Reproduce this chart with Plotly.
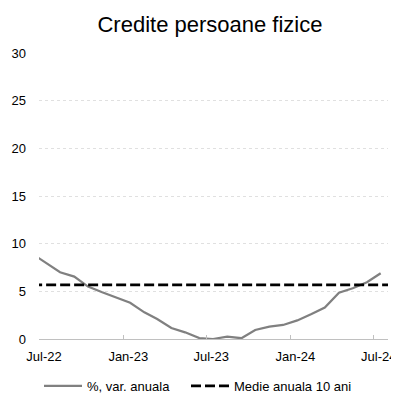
import pandas as pd
import plotly.graph_objects as go

# Monthly data (Jun-22 point lies just left of the visible axis range)
months = ["2022-06", "2022-07", "2022-08", "2022-09", "2022-10", "2022-11", "2022-12",
          "2023-01", "2023-02", "2023-03", "2023-04", "2023-05", "2023-06",
          "2023-07", "2023-08", "2023-09", "2023-10", "2023-11", "2023-12",
          "2024-01", "2024-02", "2024-03", "2024-04", "2024-05", "2024-06", "2024-07"]
var_anuala = [8.95, 8.0, 7.0, 6.55, 5.5, 4.9, 4.35,
              3.8, 2.8, 2.1, 1.15, 0.7, 0.1,
              0.0, 0.25, 0.08, 0.95, 1.3, 1.47,
              1.95, 2.62, 3.3, 4.85, 5.32, 5.95, 6.9]
mean_months = months + ["2024-08"]
medie_10ani = [5.67] * len(mean_months)

y_ticks = [0, 5, 10, 15, 20, 25, 30]

x_series = pd.to_datetime(months) + pd.Timedelta(days=15)
x_mean = pd.to_datetime(mean_months) + pd.Timedelta(days=15)

FONT = "Liberation Sans, Arial, sans-serif"
W = H = 391  # page body adds an 8px offset

fig = go.Figure()
fig.add_trace(go.Scatter(
    x=x_series, y=var_anuala, mode="lines", name="%, var. anuala",
    line=dict(color="#808080", width=2.25), legend="legend",
))
fig.add_trace(go.Scatter(
    x=x_mean, y=medie_10ani, mode="lines", name="Medie anuala 10 ani",
    line=dict(color="#000000", width=2.75, dash="10px,4px"), legend="legend2",
))

leg_common = dict(orientation="h", xref="container", xanchor="left",
                  y=1 - 378 / H, yref="container", yanchor="middle",
                  font=dict(family=FONT, size=13, color="#000000"),
                  itemwidth=38, bgcolor="rgba(0,0,0,0)")

fig.update_layout(
    width=W, height=H,
    margin=dict(l=31, r=11, t=45, b=60, autoexpand=False),
    paper_bgcolor="white", plot_bgcolor="white",
    font=dict(family=FONT, size=13, color="#000000"),
    title=dict(text="Credite persoane fizice", x=202 / W, xref="container", xanchor="center",
               y=1 - 16 / H, yref="container", yanchor="middle",
               font=dict(family=FONT, size=22, color="#000000")),
    showlegend=True,
    legend=dict(x=31 / W, **leg_common),
    legend2=dict(x=178 / W, **leg_common),
)

fig.update_xaxes(
    type="date",
    range=["2022-07-01", "2024-08-01"],
    tick0="2022-07-01", dtick="M6", tickformat="%b-%y",
    showgrid=False, zeroline=False,
    showline=True, linecolor="#c0c0c0", linewidth=1,
    ticks="inside", ticklen=4, tickcolor="#c0c0c0", tickwidth=1,
    ticklabelshift=5, ticklabelstandoff=5, ticklabeloverflow="allow",
    tickfont=dict(family=FONT, size=13, color="#000000"),
)
fig.update_yaxes(
    range=[0, 30], tickvals=y_ticks,
    showgrid=True, gridcolor="#e0e0e0", gridwidth=1, griddash="dot",
    zeroline=False, showline=False, ticks="",
    ticklabelstandoff=12,
    tickfont=dict(family=FONT, size=13, color="#000000"),
)

fig.write_html("out.html")
